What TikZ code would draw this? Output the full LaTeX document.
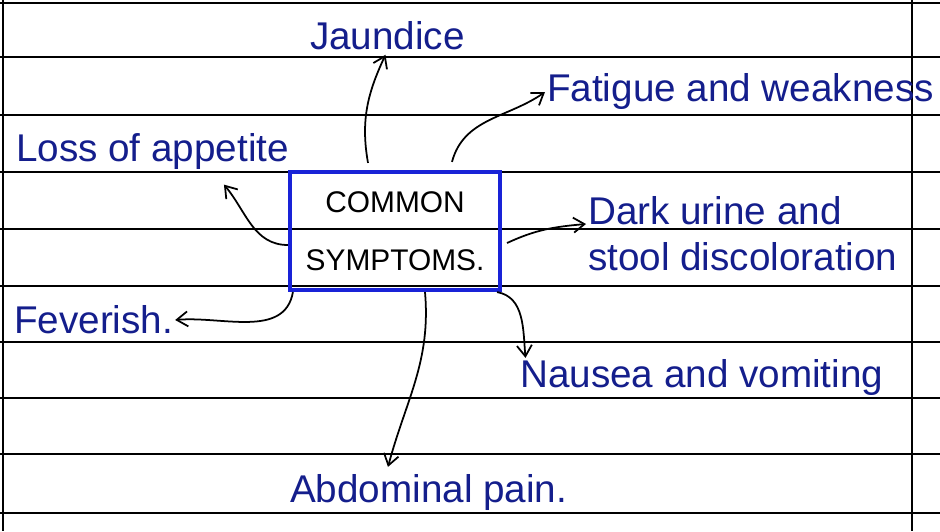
\documentclass[tikz,border=0pt]{standalone}
\usepackage{fontspec}
\setmainfont{Liberation Sans}
\usetikzlibrary{arrows.meta, positioning}

\definecolor{inkblue}{RGB}{20,30,140}
\definecolor{boxblue}{RGB}{25,35,215}

\begin{document}
\begin{tikzpicture}[
    x=0.02cm, y=-0.02cm,
    symptom/.style={text=inkblue, font=\fontsize{22}{26}\selectfont, inner sep=1pt, anchor=west},
    topic/.style={draw=boxblue, line width=2.4pt, text width=3.9cm, minimum height=2.36cm, inner sep=0pt, align=center, font=\fontsize{17}{33}\selectfont},
    arrow/.style={-{Straight Barb[length=2.2mm, width=3mm]}, line width=1pt},
    rule/.style={line width=1.2pt},
]

% page
\useasboundingbox (0,0) rectangle (940,531);
\foreach \y in {3,57,115,172,229,286,342,398,454,513}
    \draw[rule] (0,\y) -- (940,\y);
\draw[line width=0.8pt] (3,0) -- (3,531);
\draw[line width=0.8pt] (912,0) -- (912,531);

% centre box
\node[topic, minimum width=4.2cm] (symptoms) at (395,231) {COMMON\\ SYMPTOMS.};

% symptoms
\node[symptom] (jaundice) at (308,36) {Jaundice};
\node[symptom] (fatigue) at (545,92) {Fatigue and weakness};
\node[symptom] (appetite) at (14,152) {Loss of appetite};
\node[symptom, align=left] (urine) at (586,234) {Dark urine and\\stool discoloration};
\node[symptom] (feverish) at (12,320) {Feverish.};
\node[symptom] (nausea) at (518,378) {Nausea and vomiting};
\node[symptom] (abdominal) at (288,492) {Abdominal pain.};

% connectors
\draw[arrow] ([xshift=-0.54cm, yshift=0.14cm]symptoms.north) to[out=100, in=245] ([xshift=1.55cm, yshift=-0.05cm]jaundice.south west);
\draw[arrow] ([xshift=1.14cm, yshift=0.16cm]symptoms.north) to[out=75, in=215] (fatigue.west);
\draw[arrow] ([yshift=-0.28cm]symptoms.west) to[out=180, in=-50] ([xshift=4.2cm, yshift=-0.25cm]appetite.south west);
\draw[arrow] ([xshift=0.1cm, yshift=-0.24cm]symptoms.east) to[out=25, in=185] ([yshift=0.2cm]urine.west);
\draw[arrow] ([xshift=0.1cm]symptoms.south west) to[out=-100, in=5] (feverish.east);
\draw[arrow] ([xshift=-0.1cm]symptoms.south east) to[out=-10, in=95] ([xshift=0.15cm]nausea.north west);
\draw[arrow] ([xshift=0.6cm]symptoms.south) to[out=-85, in=75] ([xshift=2cm, yshift=0.1cm]abdominal.north west);

\end{tikzpicture}
\end{document}
